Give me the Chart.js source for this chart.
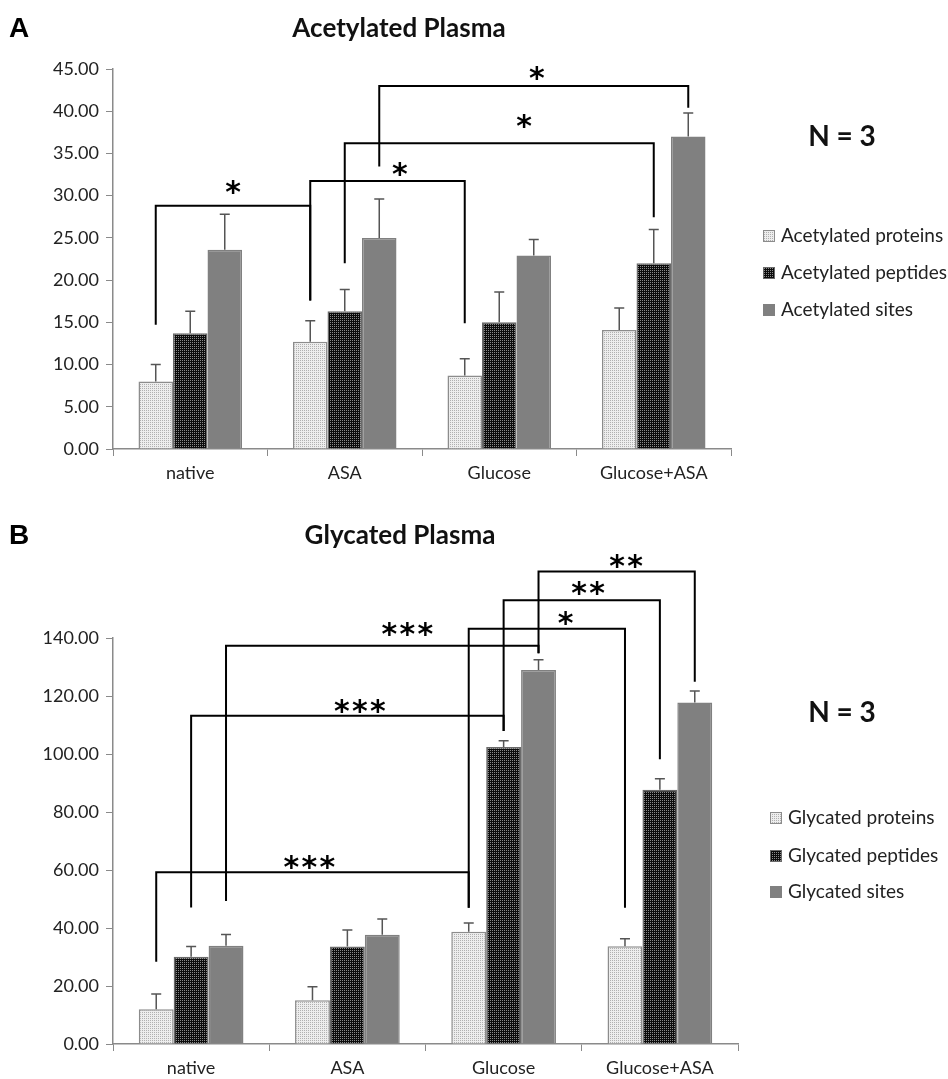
<!DOCTYPE html>
<html>
<head>
<meta charset="utf-8">
<title>Acetylated and Glycated Plasma</title>
<script src="https://cdn.jsdelivr.net/npm/chart.js@4/dist/chart.umd.min.js"></script>
<style>
  html, body { margin: 0; padding: 0; background: #fff; }
  #wrap { position: relative; width: 948px; height: 1079px; overflow: hidden; }
  #wrap canvas { position: absolute; left: 0; }
  #chartA { top: 0; }
  #chartB { top: 490px; }
</style>
</head>
<body>
<div id="wrap">
  <canvas id="chartA" width="948" height="490"></canvas>
  <canvas id="chartB" width="948" height="589"></canvas>
</div>
<script>
// Categories shared by both panels
var categories = ['native', 'ASA', 'Glucose', 'Glucose+ASA'];

// Panel A - acetylated plasma (mean and SD, N = 3)
var acLabels = ['Acetylated proteins', 'Acetylated peptides', 'Acetylated sites'];
var acProteins = [8.0, 12.7, 8.7, 14.1];
var acProteinsErr = [2.0, 2.5, 2.0, 2.6];
var acPeptides = [13.7, 16.3, 15.0, 22.0];
var acPeptidesErr = [2.6, 2.6, 3.6, 4.0];
var acSites = [23.6, 25.0, 22.9, 37.0];
var acSitesErr = [4.2, 4.6, 1.9, 2.8];
var acTicks = { min: 0, max: 45, step: 5 };

// Panel B - glycated plasma
var glLabels = ['Glycated proteins', 'Glycated peptides', 'Glycated sites'];
var glProteins = [12.0, 15.1, 38.7, 33.7];
var glProteinsErr = [5.2, 4.6, 3.0, 2.6];
var glPeptides = [30.1, 33.6, 102.4, 87.7];
var glPeptidesErr = [3.5, 5.7, 2.2, 3.8];
var glSites = [33.9, 37.7, 129.0, 117.8];
var glSitesErr = [3.9, 5.4, 3.5, 3.9];
var glTicks = { min: 0, max: 140, step: 20 };

// Significance brackets: [series, fromCat, toCat, leftLegBottom, top, rightLegBottom, stars, starValue]
var acBrackets = [
    [0, 0, 1, 14.7, 28.8, 17.6, '*', 31.2],
    [0, 1, 2, 17.6, 31.75, 14.9, '*', 33.3],
    [1, 1, 3, 22.0, 36.2, 27.45, '*', 39.0],
    [2, 1, 3, 33.45, 43.0, 40.4, '*', 44.6]
];
var glBrackets = [
    [0, 0, 2, 28.4, 59.2, 47.0, '***', 63.1],
    [1, 0, 2, 47.1, 113.2, 107.9, '***', 116.9],
    [2, 0, 2, 49.3, 137.3, 134.7, '***', 143.4],
    [0, 2, 3, 47.0, 143.2, 47.0, '*', 147.2],
    [1, 2, 3, 107.9, 153.0, 98.2, '**', 157.7],
    [2, 2, 3, 134.7, 162.9, 124.9, '**', 166.9]
];
// where along each bracket the stars sit (0 = left leg, 1 = right leg)
var acStarAt = [0.5, 0.58, 0.58, 0.51];
var glStarAt = [0.49, 0.54, 0.58, 0.62, 0.54, 0.56];

var FONT = 'Lato, "Open Sans", sans-serif';
var STAR_FONT = 'bold 30px "DejaVu Sans", sans-serif';

function makePattern(bg, dot) {
    var c = document.createElement('canvas');
    c.width = 2;
    c.height = 2;
    var g = c.getContext('2d');
    g.fillStyle = bg;
    g.fillRect(0, 0, 2, 2);
    g.fillStyle = dot;
    g.fillRect(0, 0, 1, 1);
    return g.createPattern(c, 'repeat');
}

var proteinFill = makePattern('#ededed', '#b0b0b0');
var peptideFill = makePattern('#0c0c0c', '#8a8a8a');
var siteFill = '#808080';
var fills = [proteinFill, peptideFill, siteFill];
var borders = ['#8c8c8c', '#6a6a6a', '#808080'];

// Error bars, brackets, legend and headings
var markupPlugin = {
    id: 'markup',
    afterDatasetsDraw: function(chart, args, opts) {
        var ctx = chart.ctx;
        var yScale = chart.scales.y;
        ctx.save();
        ctx.strokeStyle = '#555';
        ctx.lineWidth = 1.5;
        chart.data.datasets.forEach(function(ds, i) {
            var meta = chart.getDatasetMeta(i);
            meta.data.forEach(function(bar, j) {
                var top = yScale.getPixelForValue(ds.data[j] + opts.errors[i][j]);
                ctx.beginPath();
                ctx.moveTo(bar.x, bar.y);
                ctx.lineTo(bar.x, top);
                ctx.moveTo(bar.x - 5, top);
                ctx.lineTo(bar.x + 5, top);
                ctx.stroke();
            });
        });
        ctx.restore();
    },
    afterDraw: function(chart, args, opts) {
        var ctx = chart.ctx;
        var yScale = chart.scales.y;
        ctx.save();

        // significance brackets
        ctx.strokeStyle = '#000';
        ctx.lineWidth = 2;
        ctx.fillStyle = '#000';
        ctx.textAlign = 'center';
        ctx.textBaseline = 'alphabetic';
        ctx.font = STAR_FONT;
        opts.brackets.forEach(function(b, k) {
            var meta = chart.getDatasetMeta(b[0]);
            var x1 = meta.data[b[1]].x;
            var x2 = meta.data[b[2]].x;
            var yTop = yScale.getPixelForValue(b[4]);
            ctx.beginPath();
            ctx.moveTo(x1, yScale.getPixelForValue(b[3]));
            ctx.lineTo(x1, yTop);
            ctx.lineTo(x2, yTop);
            ctx.lineTo(x2, yScale.getPixelForValue(b[5]));
            ctx.stroke();
            // one glyph per star, 18px apart
            var sx = x1 + (x2 - x1) * opts.starAt[k];
            var sy = yScale.getPixelForValue(b[7]) + 16;
            var n = b[6].length;
            for (var s = 0; s < n; s++) {
                ctx.fillText('*', sx + (s - (n - 1) / 2) * 18, sy);
            }
        });

        // panel letter and title
        ctx.textBaseline = 'middle';
        ctx.textAlign = 'left';
        ctx.font = 'bold 28px "Liberation Sans", Arial, sans-serif';
        ctx.fillText(opts.panel, 9, opts.headY);
        ctx.textAlign = 'center';
        ctx.font = 'bold 26px ' + FONT;
        ctx.fillStyle = '#111';
        ctx.fillText(opts.title, opts.titleX, opts.headY);

        // N = 3
        ctx.font = 'bold 28px ' + FONT;
        ctx.fillText('N = 3', 842, opts.nY);

        // legend
        ctx.textAlign = 'left';
        ctx.font = '19px ' + FONT;
        chart.data.datasets.forEach(function(ds, i) {
            var ry = opts.legendRows[i];
            ctx.fillStyle = ds.backgroundColor;
            ctx.fillRect(opts.legendX, ry - 6, 12, 12);
            ctx.strokeStyle = ds.borderColor;
            ctx.lineWidth = 1;
            ctx.strokeRect(opts.legendX + 0.5, ry - 5.5, 11, 11);
            ctx.fillStyle = '#222';
            ctx.fillText(ds.label, opts.legendX + 18, ry);
        });
        ctx.restore();
    }
};

function buildChart(canvasId, labels, series, errors, ticks, brackets, starAt, layout, decor) {
    var datasets = series.map(function(values, i) {
        return {
            label: labels[i],
            data: values,
            backgroundColor: fills[i],
            borderColor: borders[i],
            borderWidth: 1.5,
            borderSkipped: 'bottom',
            categoryPercentage: 0.67,
            barPercentage: 1.0
        };
    });

    return new Chart(document.getElementById(canvasId), {
        type: 'bar',
        data: { labels: categories, datasets: datasets },
        plugins: [markupPlugin],
        options: {
            responsive: false,
            animation: false,
            devicePixelRatio: 1,
            layout: { padding: layout.padding },
            plugins: {
                legend: { display: false },
                tooltip: { enabled: false },
                markup: {
                    errors: errors,
                    brackets: brackets,
                    starAt: starAt,
                    panel: decor.panel,
                    title: decor.title,
                    titleX: decor.titleX,
                    headY: decor.headY,
                    nY: decor.nY,
                    legendX: decor.legendX,
                    legendRows: decor.legendRows
                }
            },
            scales: {
                x: {
                    grid: {
                        drawOnChartArea: false,
                        color: '#8a8a8a',
                        tickLength: 7
                    },
                    border: { color: '#8a8a8a', width: 1.5 },
                    ticks: {
                        color: '#222',
                        padding: 6,
                        font: { family: FONT, size: 18 }
                    },
                    afterFit: function(scale) { scale.height = layout.xHeight; }
                },
                y: {
                    min: ticks.min,
                    max: ticks.max,
                    grid: {
                        drawOnChartArea: false,
                        color: '#8a8a8a',
                        tickLength: 7
                    },
                    border: { color: '#8a8a8a', width: 1.5 },
                    ticks: {
                        stepSize: ticks.step,
                        color: '#222',
                        padding: 7,
                        font: { family: FONT, size: 18 },
                        callback: function(value) { return value.toFixed(2); }
                    },
                    afterFit: function(scale) { scale.width = 113; }
                }
            }
        }
    });
}

buildChart('chartA', acLabels,
    [acProteins, acPeptides, acSites],
    [acProteinsErr, acPeptidesErr, acSitesErr],
    acTicks, acBrackets, acStarAt,
    { padding: { left: 0, right: 217, top: 69, bottom: 0 }, xHeight: 41 },
    { panel: 'A', title: 'Acetylated Plasma', titleX: 399, headY: 29, nY: 137,
      legendX: 763, legendRows: [236, 273, 310] });

buildChart('chartB', glLabels,
    [glProteins, glPeptides, glSites],
    [glProteinsErr, glPeptidesErr, glSitesErr],
    glTicks, glBrackets, glStarAt,
    { padding: { left: 0, right: 210, top: 148, bottom: 0 }, xHeight: 35 },
    { panel: 'B', title: 'Glycated Plasma', titleX: 400, headY: 46, nY: 223,
      legendX: 770, legendRows: [328, 366, 402] });
</script>
</body>
</html>
